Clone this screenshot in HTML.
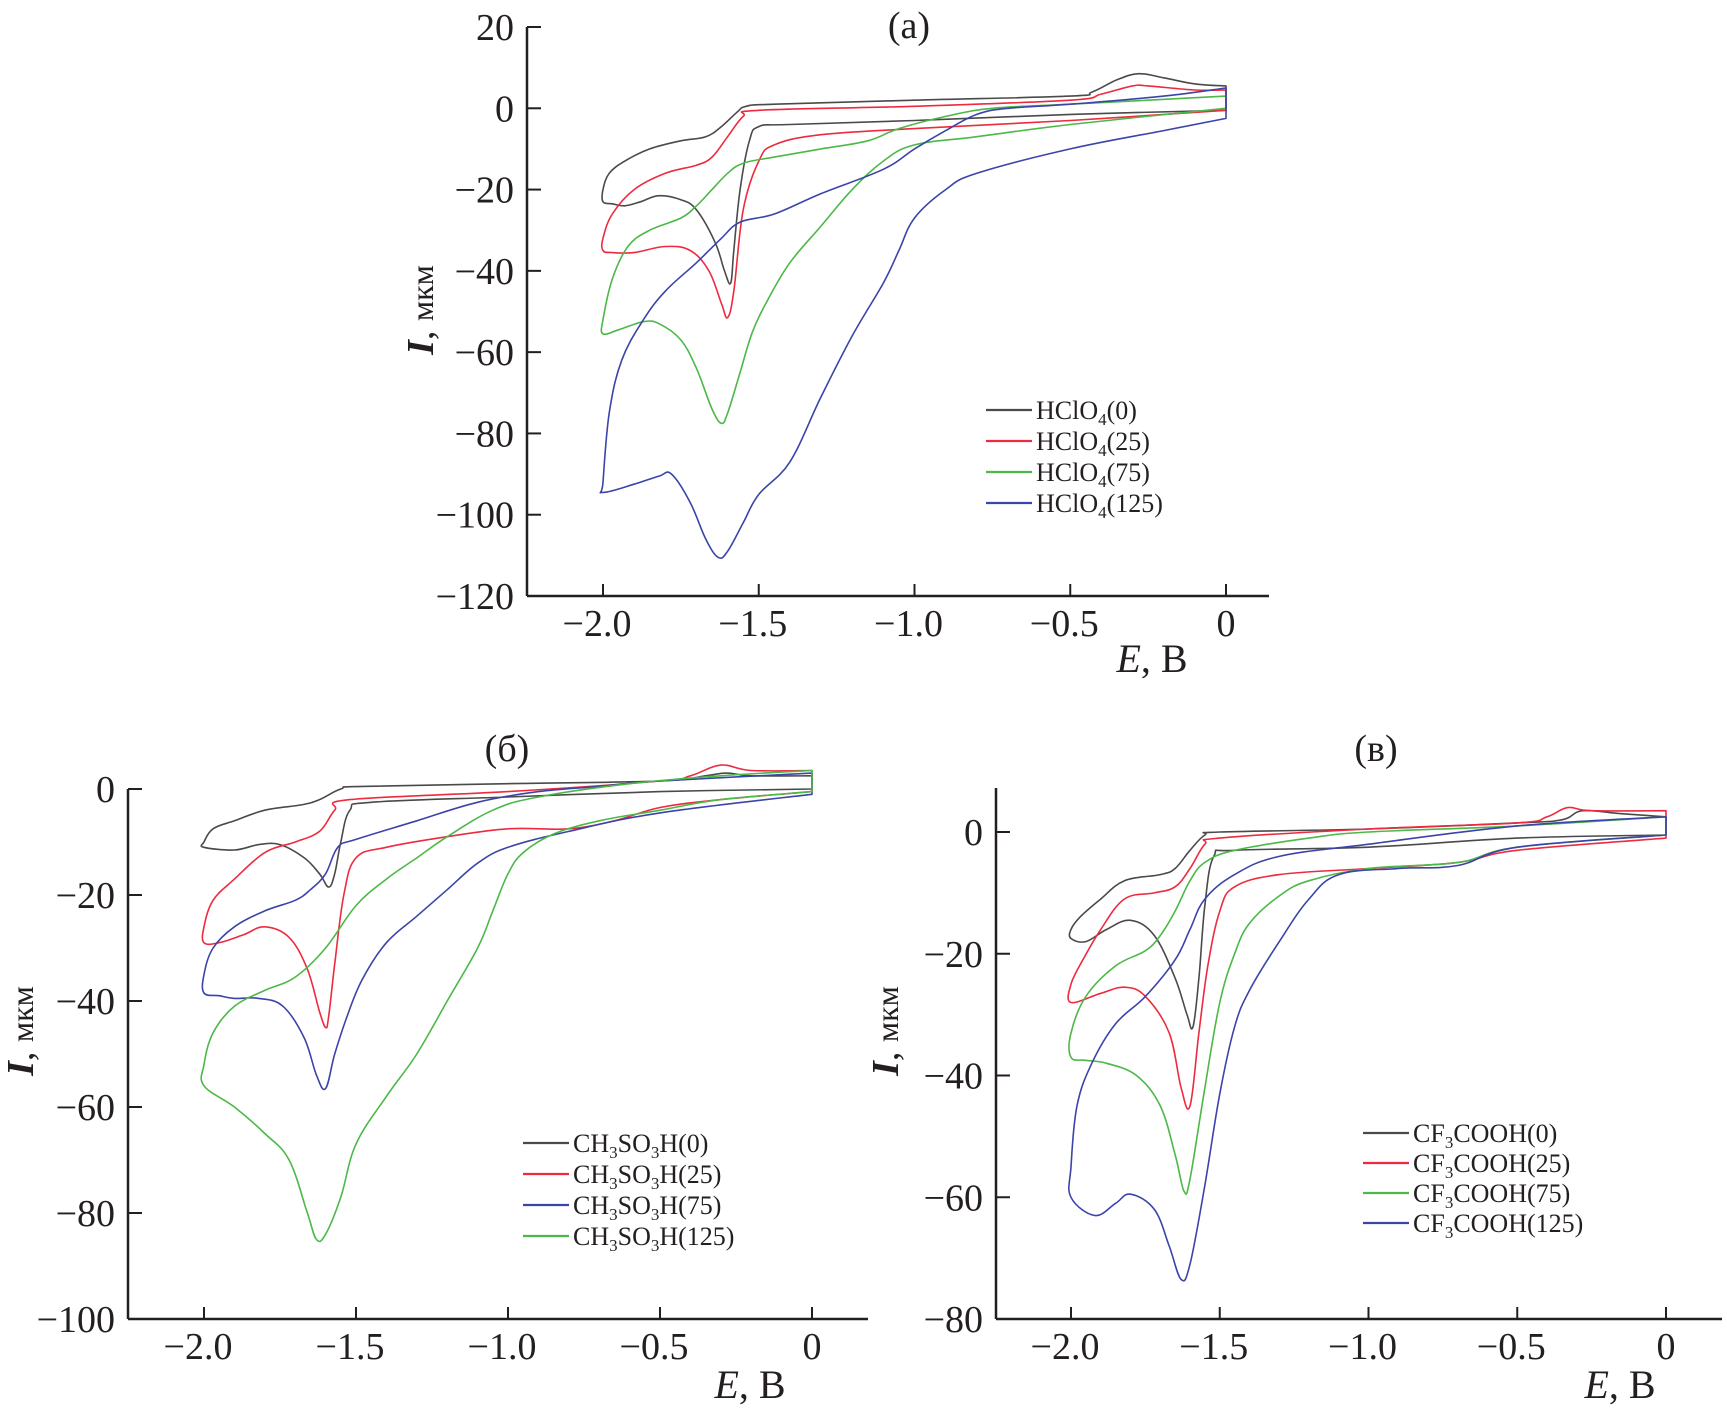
<!DOCTYPE html>
<html><head><meta charset="utf-8"><style>
html,body{margin:0;padding:0;background:#fff;}
svg{display:block;}
text{font-family:"Liberation Serif","DejaVu Serif",serif;fill:#231f20;}
</style></head><body>
<svg id="chart" width="1727" height="1411" viewBox="0 0 1727 1411" xmlns="http://www.w3.org/2000/svg"></svg>
<script>
// ---- Panel (a) HClO4 data: E (V) and I (uA), lower sweep 0 -> -2 then upper sweep -2 -> 0
const aXTicks = [-2.0, -1.5, -1.0, -0.5, 0];
const aXTickLabels = ["−2.0", "−1.5", "−1.0", "−0.5", "0"];
const aYTicks = [20, 0, -20, -40, -60, -80, -100, -120];
const aYTickLabels = ["20", "0", "−20", "−40", "−60", "−80", "−100", "−120"];
const aLabels = ["HClO", "HClO", "HClO", "HClO"];
const aConc = ["(0)", "(25)", "(75)", "(125)"];
const a0E = [0,-0.5,-1.0,-1.4,-1.5,-1.53,-1.56,-1.58,-1.59,-1.61,-1.64,-1.7,-1.75,-1.82,-1.88,-1.93,-1.97,-2.0,-2.0,-1.98,-1.93,-1.85,-1.75,-1.67,-1.62,-1.57,-1.54,-1.45,-1.0,-0.5,-0.43,-0.35,-0.28,-0.2,-0.1,0];
const a0I = [-0.5,-1.5,-3,-4,-4.5,-8,-20,-35,-43,-40,-33,-25,-22.5,-21.5,-23,-24,-23.5,-23,-20,-16,-13,-10,-8,-7,-4.5,-1,0.5,1,2,3,4,7,8.5,7.5,6,5.5];
const a1E = [0,-0.5,-1.0,-1.3,-1.45,-1.5,-1.55,-1.58,-1.6,-1.62,-1.66,-1.72,-1.8,-1.9,-1.97,-2.0,-2.0,-1.97,-1.9,-1.8,-1.7,-1.65,-1.6,-1.55,-1.5,-1.0,-0.5,-0.4,-0.3,-0.25,-0.1,0];
const a1I = [-0.5,-3,-5,-6.5,-9,-13,-25,-45,-51.5,-48,-40,-35,-34,-35.5,-35.5,-35,-32,-26,-20,-16,-14,-12,-7,-2,-0.5,0.5,2,3.5,5.5,5.5,4.5,4.5];
const a2E = [0,-0.5,-0.8,-1.0,-1.1,-1.2,-1.3,-1.4,-1.47,-1.52,-1.56,-1.6,-1.62,-1.65,-1.7,-1.75,-1.82,-1.87,-1.95,-2.0,-2.0,-1.97,-1.92,-1.85,-1.75,-1.7,-1.65,-1.6,-1.55,-1.45,-1.3,-1.15,-1.05,-0.9,-0.75,-0.5,0];
const a2I = [0,-4,-7,-9,-13,-20,-29,-38,-47,-55,-65,-75,-77.5,-74,-64,-57,-53,-52.5,-54.5,-55.5,-52,-42,-34,-30,-27,-24,-20,-16,-13.5,-12,-10,-8,-5,-2,0,1,3];
const a3E = [0,-0.2,-0.5,-0.8,-0.9,-1.0,-1.05,-1.1,-1.2,-1.3,-1.4,-1.5,-1.55,-1.6,-1.63,-1.67,-1.72,-1.78,-1.82,-1.9,-2.0,-2.0,-1.98,-1.94,-1.87,-1.8,-1.7,-1.62,-1.56,-1.45,-1.3,-1.1,-1.0,-0.9,-0.8,-0.7,-0.5,-0.2,0];
const a3I = [-2.5,-5.5,-10,-16,-20,-27,-35,-43,-56,-71,-87,-95,-102,-109,-110.5,-106,-97,-90,-90.5,-92.5,-94.5,-92,-75,-62,-52,-45,-38,-32,-28,-26,-21,-15,-10,-5.5,-1.5,0,1,3,5];

// ---- Panel (б) CH3SO3H data
const bXTicks = [-2.0, -1.5, -1.0, -0.5, 0];
const bXTickLabels = ["−2.0", "−1.5", "−1.0", "−0.5", "0"];
const bYTicks = [0, -20, -40, -60, -80, -100];
const bYTickLabels = ["0", "−20", "−40", "−60", "−80", "−100"];
const bConc = ["(0)", "(25)", "(75)", "(125)"];
const b0E = [0,-0.5,-1.0,-1.45,-1.52,-1.55,-1.57,-1.59,-1.62,-1.67,-1.75,-1.82,-1.9,-2.0,-2.0,-1.97,-1.9,-1.8,-1.68,-1.62,-1.55,-1.48,-1.0,-0.5,-0.35,-0.28,-0.2,0];
const b0I = [0,-0.5,-1.5,-2.5,-4,-10,-16,-18.5,-16,-13,-10.5,-10.5,-11.5,-11,-10,-7.5,-6,-4,-3,-2,0,0.5,1,1.5,2.5,3,2.5,2.5];
const b1E = [0,-0.3,-0.5,-0.65,-0.8,-1.0,-1.2,-1.4,-1.5,-1.54,-1.57,-1.59,-1.6,-1.62,-1.66,-1.72,-1.8,-1.87,-1.95,-2.0,-2.0,-1.97,-1.9,-1.8,-1.7,-1.62,-1.57,-1.52,-1.0,-0.5,-0.4,-0.3,-0.2,0];
const b1I = [-0.5,-2,-3.5,-6,-7.5,-7.5,-9,-11,-13,-20,-33,-43,-45,-42,-34,-28,-26,-27.5,-29,-29,-26,-21,-17,-12,-10,-8,-4,-2,-0.5,1.5,2.5,4.5,3.5,3.5];
const b2E = [0,-0.5,-0.8,-1.0,-1.1,-1.2,-1.3,-1.4,-1.48,-1.53,-1.57,-1.6,-1.63,-1.67,-1.74,-1.82,-1.9,-1.95,-2.0,-2.0,-1.97,-1.9,-1.8,-1.7,-1.65,-1.6,-1.56,-1.5,-1.3,-1.1,-0.9,-0.7,-0.5,0];
const b2I = [-1,-4.5,-8,-11,-14,-19,-24,-29,-36,-43,-50,-56.5,-54,-47,-41,-39.5,-39.5,-39,-38.5,-35,-30,-26,-23,-21,-19,-16,-11,-9.5,-6,-2.5,-0.5,0.5,1.5,3];
const b3E = [0,-0.3,-0.5,-0.7,-0.85,-0.95,-1.0,-1.05,-1.1,-1.2,-1.3,-1.4,-1.5,-1.55,-1.6,-1.63,-1.66,-1.72,-1.8,-1.9,-2.0,-2.0,-1.97,-1.9,-1.8,-1.7,-1.6,-1.5,-1.4,-1.3,-1.2,-1.05,-0.9,-0.6,-0.3,0];
const b3I = [-0.5,-2,-4,-6,-8.5,-12,-16,-23,-30,-40,-50,-58,-67,-77,-84,-85,-80,-70,-65,-60,-56,-52,-46,-41,-38,-35.5,-30,-22,-17,-13,-9,-4,-1.5,1,2.5,3.5];

// ---- Panel (в) CF3COOH data
const cXTicks = [-2.0, -1.5, -1.0, -0.5, 0];
const cXTickLabels = ["−2.0", "−1.5", "−1.0", "−0.5", "0"];
const cYTicks = [0, -20, -40, -60, -80];
const cYTickLabels = ["0", "−20", "−40", "−60", "−80"];
const cConc = ["(0)", "(25)", "(75)", "(125)"];
const c0E = [0,-0.5,-1.0,-1.45,-1.52,-1.55,-1.57,-1.59,-1.61,-1.65,-1.72,-1.8,-1.88,-1.95,-2.0,-2.0,-1.97,-1.9,-1.82,-1.7,-1.65,-1.6,-1.55,-1.5,-1.0,-0.5,-0.35,-0.28,-0.15,0];
const c0I = [-0.5,-1,-2.5,-3,-4,-12,-24,-32,-30,-24,-17,-14.5,-16,-18,-17.5,-16,-14,-11,-8,-7,-6,-3,-0.5,0,0.5,1.5,2,3.5,3,2.5];
const c1E = [0,-0.5,-0.7,-1.0,-1.3,-1.45,-1.5,-1.54,-1.57,-1.6,-1.63,-1.67,-1.75,-1.82,-1.9,-2.0,-2.0,-1.96,-1.9,-1.82,-1.72,-1.65,-1.6,-1.55,-1.5,-1.0,-0.5,-0.4,-0.33,-0.25,0];
const c1I = [-1,-3,-5,-6,-7,-9,-13,-22,-33,-45,-42,-33,-27,-25.5,-26.5,-28,-25,-21,-16,-11,-10,-9,-6,-2,-1,0.5,1.5,2.5,4,3.5,3.5];
const c2E = [0,-0.5,-0.7,-1.0,-1.2,-1.3,-1.4,-1.45,-1.5,-1.55,-1.6,-1.62,-1.65,-1.7,-1.78,-1.88,-1.95,-2.0,-2.0,-1.95,-1.85,-1.75,-1.7,-1.65,-1.6,-1.55,-1.45,-1.2,-1.0,-0.5,0];
const c2I = [-0.5,-2.5,-5,-6,-8,-10.5,-15,-20,-28,-42,-57,-59,-53,-45,-40,-38,-37.5,-37,-33,-27,-22,-19.5,-17,-13,-8,-5,-3,-1,0,1,2.5];
const c3E = [0,-0.5,-0.7,-0.9,-1.1,-1.2,-1.3,-1.4,-1.45,-1.5,-1.55,-1.6,-1.63,-1.67,-1.72,-1.8,-1.85,-1.92,-2.0,-2.0,-1.98,-1.93,-1.85,-1.75,-1.65,-1.6,-1.55,-1.45,-1.3,-1.0,-0.5,0];
const c3I = [-0.5,-2.5,-5.5,-6,-7,-11,-18,-26,-32,-43,-58,-71,-73.5,-68,-62,-59.5,-61,-63,-60,-55,-45,-38,-31.5,-27,-21,-16,-11,-7,-4,-2,1,2.5];

const colors = ["#4a4a4a", "#ee2a3e", "#4cb848", "#3b44a8"];
const NS = "http://www.w3.org/2000/svg";
const svg = document.getElementById("chart");

function mk(tag, attrs, parent) {
  const el = document.createElementNS(NS, tag);
  for (const k in attrs) el.setAttribute(k, attrs[k]);
  (parent || svg).appendChild(el);
  return el;
}

function smoothPath(pts) {
  let d = "M" + pts[0][0].toFixed(1) + "," + pts[0][1].toFixed(1);
  for (let i = 0; i < pts.length - 1; i++) {
    const p0 = pts[Math.max(i - 1, 0)], p1 = pts[i], p2 = pts[i + 1], p3 = pts[Math.min(i + 2, pts.length - 1)];
    const t = 0.18;
    const c1x = p1[0] + (p2[0] - p0[0]) * t, c1y = p1[1] + (p2[1] - p0[1]) * t;
    const c2x = p2[0] - (p3[0] - p1[0]) * t, c2y = p2[1] - (p3[1] - p1[1]) * t;
    d += "C" + c1x.toFixed(1) + "," + c1y.toFixed(1) + " " + c2x.toFixed(1) + "," + c2y.toFixed(1) + " " + p2[0].toFixed(1) + "," + p2[1].toFixed(1);
  }
  return d + "Z";
}

function panel(cfg) {
  const g = mk("g", {});
  
  
  const sx = e => cfg.x0 + (e - cfg.e0) / (cfg.e1 - cfg.e0) * (cfg.x1 - cfg.x0);
  const sy = v => cfg.y0 + (v - cfg.v0) / (cfg.v1 - cfg.v0) * (cfg.y1 - cfg.y0);
  const ya = mk("line", {x1: cfg.ax, y1: cfg.ayTop, x2: cfg.ax, y2: cfg.ay, stroke: "#231f20", "stroke-width": 2.5}, g);
  
  
  const xa = mk("line", {x1: cfg.ax, y1: cfg.ay, x2: cfg.axEnd, y2: cfg.ay, stroke: "#231f20", "stroke-width": 2.5}, g);
  
  
  cfg.xt.forEach((t, i) => {
    const x = sx(t);
    const tk = mk("line", {x1: x, y1: cfg.ay, x2: x, y2: cfg.ay - 12, stroke: "#231f20", "stroke-width": 2}, g);
    
    
    const tl = mk("text", {x: x - (t === 0 ? 0 : 6), y: cfg.ay + 40, "font-size": 38, "text-anchor": "middle"}, g);
    tl.textContent = cfg.xtl[i];
    
    
  });
  cfg.yt.forEach((t, i) => {
    const y = sy(t);
    const tk = mk("line", {x1: cfg.ax, y1: y, x2: cfg.ax + 14, y2: y, stroke: "#231f20", "stroke-width": 2}, g);
    
    
    const tl = mk("text", {x: cfg.ax - 13, y: y + 13, "font-size": 38, "text-anchor": "end"}, g);
    tl.textContent = cfg.ytl[i];
    
    
  });
  cfg.series.forEach((s, i) => {
    const pts = s[0].map((e, j) => [sx(e), sy(s[1][j])]);
    const p = mk("path", {d: smoothPath(pts), fill: "none", stroke: colors[cfg.order[i]], "stroke-width": 1.6, "stroke-linejoin": "round"}, g);
    
    
  });
  cfg.series.forEach((s, i) => {
    const y = cfg.legY[i];
    const ll = mk("line", {x1: cfg.legX, y1: y, x2: cfg.legX + 46, y2: y, stroke: colors[cfg.order[i]], "stroke-width": 2.2}, g);
    
    
    const t = mk("text", {x: cfg.legX + 50, y: y + 9, "font-size": 26}, g);
    
    
    cfg.legParts(t, i);
  });
  const ti = mk("text", {x: cfg.titleX, y: cfg.titleY, "font-size": 38, "text-anchor": "middle"}, g);
  ti.textContent = cfg.title;
  
  
  const xl = mk("text", {x: cfg.xlX, y: cfg.xlY, "font-size": 40, "text-anchor": "middle"}, g);
  xl.innerHTML = '<tspan font-style="italic">E</tspan>, В';
  
  
  const yl = mk("text", {x: 0, y: 0, "font-size": 38, "text-anchor": "middle", transform: "translate(" + cfg.ylX + "," + cfg.ylY + ") rotate(-90)"}, g);
  yl.innerHTML = '<tspan font-style="italic" font-weight="bold">I</tspan>, <tspan font-size="32">мкм</tspan>';
  
  
}

panel({
  name: "panel-a-hclo4", x0: 603, x1: 1226, e0: -2, e1: 0, y0: 27, y1: 596, v0: 20, v1: -120,
  ax: 527, ay: 596, ayTop: 27, axEnd: 1269,
  xt: aXTicks, xtl: aXTickLabels, yt: aYTicks, ytl: aYTickLabels,
  series: [[a0E, a0I], [a1E, a1I], [a2E, a2I], [a3E, a3I]], order: [0, 1, 2, 3],
  labels: aLabels, conc: aConc,
  legX: 986, legY: [410, 441, 472, 503],
  legParts: function(t, i) { t.innerHTML = 'HClO<tspan font-size="17" dy="6">4</tspan><tspan dy="-6">' + aConc[i] + '</tspan>'; },
  title: "(a)", titleX: 909, titleY: 38, xlX: 1152, xlY: 672, ylX: 433, ylY: 310
});
panel({
  name: "panel-b-ch3so3h", x0: 204, x1: 812, e0: -2, e1: 0, y0: 789, y1: 1319, v0: 0, v1: -100,
  ax: 128, ay: 1319, ayTop: 789, axEnd: 868,
  xt: bXTicks, xtl: bXTickLabels, yt: bYTicks, ytl: bYTickLabels,
  series: [[b0E, b0I], [b1E, b1I], [b2E, b2I], [b3E, b3I]], order: [0, 1, 3, 2],
  labels: ["CH3SO3H", "CH3SO3H", "CH3SO3H", "CH3SO3H"], conc: bConc,
  legX: 523, legY: [1143, 1174, 1205, 1236],
  legParts: function(t, i) { t.innerHTML = 'CH<tspan font-size="17" dy="6">3</tspan><tspan dy="-6">SO</tspan><tspan font-size="17" dy="6">3</tspan><tspan dy="-6">H' + bConc[i] + '</tspan>'; },
  title: "(б)", titleX: 507, titleY: 761, xlX: 750, xlY: 1398, ylX: 33, ylY: 1031
});
panel({
  name: "panel-c-cf3cooh", x0: 1071, x1: 1666, e0: -2, e1: 0, y0: 832, y1: 1319, v0: 0, v1: -80,
  ax: 996, ay: 1319, ayTop: 788, axEnd: 1722,
  xt: cXTicks, xtl: cXTickLabels, yt: cYTicks, ytl: cYTickLabels,
  series: [[c0E, c0I], [c1E, c1I], [c2E, c2I], [c3E, c3I]], order: [0, 1, 2, 3],
  labels: ["CF3COOH", "CF3COOH", "CF3COOH", "CF3COOH"], conc: cConc,
  legX: 1363, legY: [1133, 1163, 1193, 1223],
  legParts: function(t, i) { t.innerHTML = 'CF<tspan font-size="17" dy="6">3</tspan><tspan dy="-6">COOH' + cConc[i] + '</tspan>'; },
  title: "(в)", titleX: 1376, titleY: 761, xlX: 1620, xlY: 1398, ylX: 898, ylY: 1031
});
</script>
</body></html>
